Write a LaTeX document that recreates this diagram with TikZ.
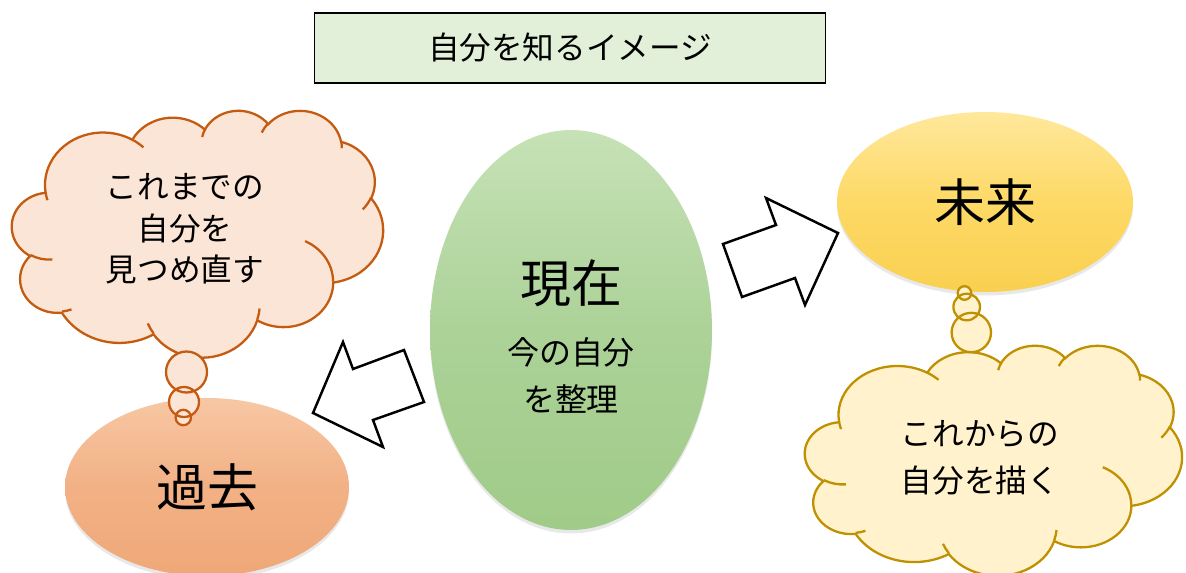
\documentclass[tikz,border=0pt]{standalone}
\usepackage{fontspec}
\setmainfont{Noto Sans CJK JP}
\usetikzlibrary{shapes.geometric,shadows}

\definecolor{pastline}{HTML}{C55A11}
\definecolor{pastfill}{HTML}{FBE5D6}
\definecolor{futline}{HTML}{BF9000}
\definecolor{futfill}{HTML}{FFF2CC}
\definecolor{titlefill}{HTML}{E2F0D9}
\definecolor{greentop}{HTML}{C6E2B6}
\definecolor{greenmid}{HTML}{ACD298}
\definecolor{greenbot}{HTML}{A0CB88}
\definecolor{pasttop}{HTML}{F7C7A4}
\definecolor{pastmid}{HTML}{F2B185}
\definecolor{pastbot}{HTML}{EFA878}
\definecolor{futtop}{HTML}{FFE89C}
\definecolor{futmid}{HTML}{FDD966}
\definecolor{futbot}{HTML}{F9D050}

\newcommand\carc[4]{arc[start angle={vpa(#1,#3,#4)}, end angle={vpa((#1)+(#2),#3,#4)}, x radius=#3, y radius=#4]}
\newcommand\cloudoutline{(39.00,143.70)
 \carc{-190.487}{123.781}{67.53}{91.90}
 \carc{-144.102}{89.945}{53.33}{72.67}
 \carc{-145.808}{99.723}{43.65}{59.45}
 \carc{-130.986}{117.242}{48.57}{65.95}
 \carc{-78.709}{109.027}{53.33}{72.73}
 \carc{-46.267}{130.269}{67.75}{92.20}
 \carc{0.625}{114.033}{57.85}{78.67}
 \carc{22.452}{115.173}{67.52}{92.15}
 \carc{66.243}{75.711}{77.20}{105.43}
 \carc{-274.942}{146.736}{43.60}{59.18}
 \carc{-246.829}{152.519}{43.45}{59.45} -- cycle}
\newcommand\cloudstubs{
 (46.93,261.77) \carc{86.742}{26.430}{43.45}{59.45}
 (69.28,348.99) \carc{73.610}{11.447}{43.60}{59.18}
 (164.78,390.90) \carc{137.624}{14.081}{67.52}{92.15}
 (288.27,347.51) \carc{6.453}{15.998}{67.52}{92.15}
 (341.29,229.54) \carc{-70.292}{70.281}{57.85}{78.67}
 (417.98,153.54) \carc{30.322}{20.955}{53.33}{72.73}
 (383.24,54.26) \carc{-13.744}{14.856}{48.57}{65.95}
 (290.78,39.52) \carc{-149.181}{18.193}{48.57}{65.95}
 (221.41,47.20) \carc{-163.494}{17.686}{43.65}{59.45}
 (140.00,51.92) \carc{-66.707}{12.319}{67.53}{91.90}
 (41.27,157.89) \carc{157.654}{11.858}{67.53}{91.90}}

\tikzset{
  bigtext/.style={font=\fontsize{29}{35}\selectfont},
  smalltext/.style={font=\fontsize{18.2}{26.7}\selectfont, align=center, inner sep=0pt},
  oval/.style={ellipse, inner sep=0pt, drop shadow={opacity=0.18, shadow xshift=0pt, shadow yshift=-2pt}},
  blockarrow/.style={draw=black, fill=white, line width=1.4pt, line join=miter},
  titlebox/.style={draw=black, line width=0.6pt, fill=titlefill, minimum width=10.24cm, minimum height=1.4cm, inner sep=0pt, font=\fontsize{18}{22}\selectfont},
  pastcloud/.style={draw=pastline, line width=1.3pt},
  futcloud/.style={draw=futline, line width=1.3pt}
}

\begin{document}
\begin{tikzpicture}[x=0.02cm, y=-0.02cm,
  declare function={vpa(\ang,\wr,\hr)=\ang+atan2(sin(atan2(\wr*sin(\ang),\hr*cos(\ang))-\ang),cos(atan2(\wr*sin(\ang),\hr*cos(\ang))-\ang));}]
\useasboundingbox (0,0) rectangle (1186,572);
\clip (0,0) rectangle (1186,572);
\fill[white] (0,0) rectangle (1186,572);

% title
\node[titlebox] (title) at (570,48) {自分を知るイメージ};

% ovals
\node[oval, minimum width=5.64cm, minimum height=8.0cm, top color=greentop, bottom color=greenbot, middle color=greenmid] (now) at (571,330) {};
\node[oval, bigtext, minimum width=5.68cm, minimum height=3.56cm, top color=pasttop, bottom color=pastbot, middle color=pastmid] (past) at (207,487) {過去};
\node[oval, bigtext, minimum width=5.92cm, minimum height=3.6cm, top color=futtop, bottom color=futbot, middle color=futmid] (future) at (985,202) {未来};

% left cloud
\begin{scope}[shift={(12,110)}, x=0.0171759cm, y=-0.0114352cm]
  \fill[pastfill] \cloudoutline;
  \draw[pastcloud] \cloudoutline;
  \draw[pastcloud] \cloudstubs;
\end{scope}
\fill[pastfill] (186.5,372) circle[radius=20.5] (184,402) circle[radius=15] (183.3,417.5) circle[radius=7.7];
\draw[pastcloud] (186.5,372) circle[radius=20.5] (184,402) circle[radius=15] (183.3,417.5) circle[radius=7.7];

% right cloud
\begin{scope}[shift={(805,345)}, x=0.0174537cm, y=-0.0106481cm]
  \fill[futfill] \cloudoutline;
  \draw[futcloud] \cloudoutline;
  \draw[futcloud] \cloudstubs;
\end{scope}
\fill[futfill] (971.3,332.5) circle[radius=19.7] (966.7,307) circle[radius=13.3] (964.5,293) circle[radius=6.8];
\draw[futcloud] (971.3,332.5) circle[radius=19.7] (966.7,307) circle[radius=13.3] (964.5,293) circle[radius=6.8];

% block arrows
\draw[blockarrow] (343,342) -- (353,369) -- (404,350) -- (424,402) -- (373,420) -- (383,447) -- (313,413) -- cycle;
\draw[blockarrow] (838,233) -- (805,305) -- (795,278) -- (742,297) -- (723,244) -- (776,225) -- (766,198) -- cycle;

% texts
\node[bigtext, inner sep=0pt] (nowtitle) at (571,283) {現在};
\node[smalltext] (nowtext) at (571,375) {今の自分\\を整理};
\node[smalltext, font=\fontsize{18}{23.6}\selectfont] (pasttext) at (185,229) {これまでの\\自分を\\見つめ直す};
\node[smalltext, font=\fontsize{18}{26.7}\selectfont] (futtext) at (980,458) {これからの\\自分を描く};
\end{tikzpicture}
\end{document}
